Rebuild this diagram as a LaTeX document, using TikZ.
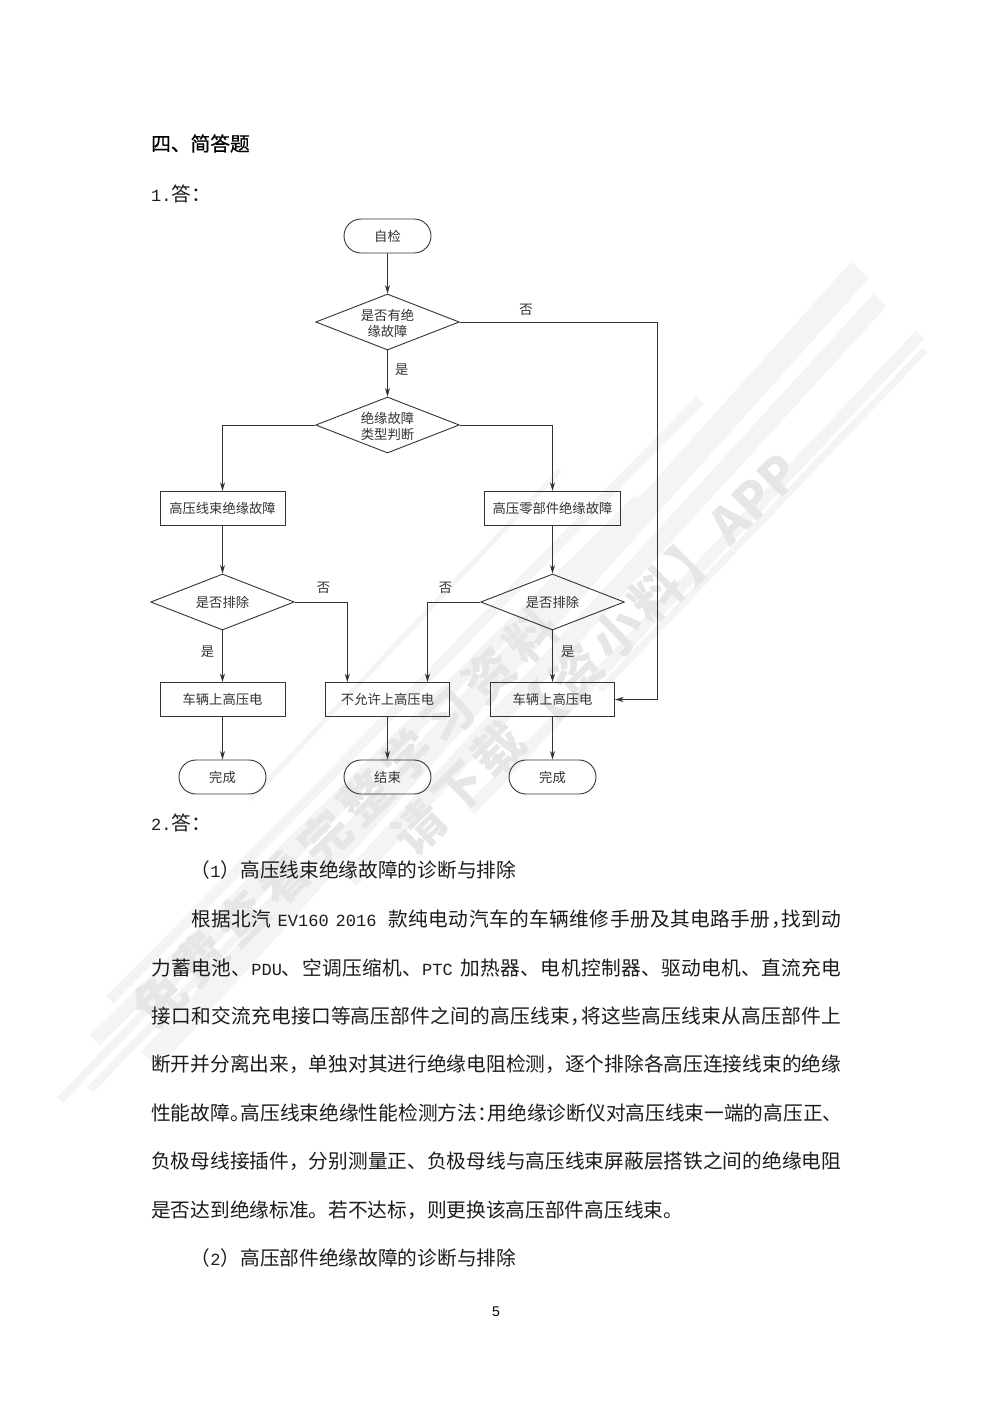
\documentclass[tikz,border=0pt]{standalone}
\usepackage{fontspec}
\usetikzlibrary{shapes.geometric,shapes.misc,arrows.meta}
\setmainfont{Noto Sans CJK SC}
\newfontfamily\headfont[FakeBold=0.5]{Noto Sans CJK SC}
\newfontfamily\latinmono{Liberation Mono}
\newfontfamily\pagefont{Liberation Sans}
\newcommand{\lat}[1]{{\latinmono\fontsize{17}{17}\selectfont #1}}
\newcommand{\fcomma}{^^^^ff0c}
\newcommand{\fcolon}{^^^^ff1a}
\newcommand{\flp}{^^^^ff08}
\newcommand{\frp}{^^^^ff09}
\def\sprx#1{\ifx#1\relax\else#1\hskip 0pt plus 1fil\relax\expandafter\sprx\fi}
\newcommand{\spr}[1]{\sprx#1\relax}
\newcommand{\fullline}[1]{\hbox to 690pt{#1\unskip}}
\newcommand{\indline}[1]{\hbox to 650pt{#1\unskip}}
\newcommand{\twolines}[2]{\raisebox{-3pt}[\height][\depth]{\begin{tabular}{@{}c@{}}#1\\#2\end{tabular}}}
\definecolor{ink}{HTML}{333333}
\definecolor{bodyink}{HTML}{1c1c1c}
\definecolor{wmtext}{HTML}{E6E6E6}
\definecolor{wmband}{HTML}{F4F4F4}
\tikzset{
  flow/.style={draw=ink,line width=0.9pt,text=ink,font=\fontsize{13.3}{16.5}\selectfont,align=center,inner sep=0pt},
  procbox/.style={flow,rectangle,minimum height=34pt},
  term/.style={flow,rounded rectangle,minimum width=87pt,minimum height=34pt},
  decide/.style={flow,diamond,aspect=2.56,minimum width=143.6pt,minimum height=56pt},
  link/.style={draw=ink,line width=0.9pt,-{Stealth[length=8.5pt,width=5pt]}},
  lab/.style={text=ink,font=\fontsize{13.3}{16}\selectfont,inner sep=0pt},
  bodytext/.style={anchor=base west,inner sep=0pt,text=bodyink,font=\fontsize{19.7}{22}\selectfont},
  wmark/.style={inner sep=0pt,text=wmtext,rotate=44.5,font=\bfseries\fontsize{50}{50}\selectfont},
  band/.style={draw=wmband,line cap=butt}
}
\begin{document}
\begin{tikzpicture}[x=1pt,y=-1pt]
\useasboundingbox (0,0) rectangle (992,1403);
\fill[white] (0,0) rectangle (992,1403);
% watermark brush strokes
\draw[band,line width=14pt] (95,1040) -- (640,500);
\draw[band,line width=8pt] (60,1100) -- (430,715);
\draw[band,line width=24pt] (150,1060) -- (860,270);
\draw[band,line width=10pt] (110,1000) -- (700,400);
\draw[band,line width=18pt] (350,880) -- (880,300);
\draw[band,line width=12pt] (470,810) -- (920,335);
\draw[band,line width=7pt] (600,690) -- (925,350);
\draw[band,line width=6pt] (700,500) -- (840,350);
\draw[band,line width=8pt] (90,1090) -- (330,840);
\draw[band,line width=5pt] (250,800) -- (560,470);
\node[wmark] (wmone) at (345,817) {\hbox to 570pt{\spr{免费查看完整学习资料}\unskip}};
\node[wmark] (wmtwo) at (596,654) {\hbox to 545pt{\spr{请下载【资小料】}APP}};
% headings
\node[anchor=base west,inner sep=0pt,text=black,font=\headfont\fontsize{19.7}{22}\selectfont] (title) at (151,151) {四、简答题};
\node[bodytext] (ansone) at (151,201) {\lat{1.}答\fcolon};
% flow chart
\node[term] (start) at (387.5,236) {自检};
\node[decide] (qone) at (387.5,322) {\twolines{是否有绝}{缘故障}};
\node[decide] (qtwo) at (387.5,425) {\twolines{绝缘故障}{类型判断}};
\node[procbox,minimum width=125pt] (wire) at (222.5,508.3) {高压线束绝缘故障};
\node[procbox,minimum width=136.3pt] (part) at (552.5,508.3) {高压零部件绝缘故障};
\node[decide] (qwire) at (222.5,602) {是否排除};
\node[decide] (qpart) at (552.5,602) {是否排除};
\node[procbox,minimum width=125pt] (oka) at (222.5,699.5) {车辆上高压电};
\node[procbox,minimum width=124.3pt] (deny) at (387.5,699.5) {不允许上高压电};
\node[procbox,minimum width=124.3pt] (okb) at (552.5,699.5) {车辆上高压电};
\node[term] (donea) at (222.5,777) {完成};
\node[term] (stop) at (387.5,777) {结束};
\node[term] (doneb) at (552.5,777) {完成};
\coordinate (farright) at (657.6,322);
\path[link] (start) -- (qone);
\path[link] (qone) -- (qtwo);
\path[link] (qone.east) -- (farright) |- (okb.east);
\path[link] (qtwo.west) -| (wire.north);
\path[link] (qtwo.east) -| (part.north);
\path[link] (wire) -- (qwire);
\path[link] (part) -- (qpart);
\path[link] (qwire) -- (oka);
\path[link] (qpart) -- (okb);
\path[link] (qwire.east) -| ([xshift=-40.2pt]deny.north);
\path[link] (qpart.west) -| ([xshift=40pt]deny.north);
\path[link] (oka) -- (donea);
\path[link] (deny) -- (stop);
\path[link] (okb) -- (doneb);
\node[lab] (lno) at (526,310) {否};
\node[lab] (lyes) at (401.7,370) {是};
\node[lab] (lnoa) at (323.5,588) {否};
\node[lab] (lnob) at (445.4,588) {否};
\node[lab] (lyesa) at (207.5,652) {是};
\node[lab] (lyesb) at (567.7,652) {是};
% body
\node[bodytext] (anstwo) at (151,830) {\lat{2.}答\fcolon};
\node[bodytext] (lineone) at (190.5,877) {\flp\lat{1}\frp 高压线束绝缘故障的诊断与排除};
\node[bodytext] (linetwo) at (191,926) {\indline{\spr{根据北汽}\hskip 6pt\lat{EV160}\hskip 7pt\lat{2016}\hskip 12pt\spr{款纯电动汽车的车辆维修手册及其电路手册\fcomma}\kern-10pt\spr{找到动}}};
\node[bodytext] (linethree) at (151,975) {\fullline{\spr{力蓄电池、}\lat{PDU}\spr{、空调压缩机、}\lat{PTC}\hskip 8pt\spr{加热器、电机控制器、驱动电机、直流充电}}};
\node[bodytext] (linefour) at (151,1023) {\fullline{\spr{接口和交流充电接口等高压部件之间的高压线束\fcomma}\kern-9pt\spr{将这些高压线束从高压部件上}}};
\node[bodytext] (linefive) at (151,1071) {\fullline{\spr{断开并分离出来\fcomma 单独对其进行绝缘电阻检测\fcomma 逐个排除各高压连接线束的绝缘}}};
\node[bodytext] (linesix) at (151,1120) {\fullline{\spr{性能故障。}\kern-9pt\spr{高压线束绝缘性能检测方法\fcolon}\kern-9pt\spr{用绝缘诊断仪对高压线束一端的高压正、}}};
\node[bodytext] (lineseven) at (151,1168) {\fullline{\spr{负极母线接插件\fcomma 分别测量正、负极母线与高压线束屏蔽层搭铁之间的绝缘电阻}}};
\node[bodytext] (lineeight) at (151,1217) {是否达到绝缘标准。若不达标\fcomma 则更换该高压部件高压线束。};
\node[bodytext] (linenine) at (190.5,1265) {\flp\lat{2}\frp 高压部件绝缘故障的诊断与排除};
\node[inner sep=0pt,text=black,font=\pagefont\fontsize{14}{14}\selectfont] (pagenum) at (496,1312) {5};
\end{tikzpicture}
\end{document}
